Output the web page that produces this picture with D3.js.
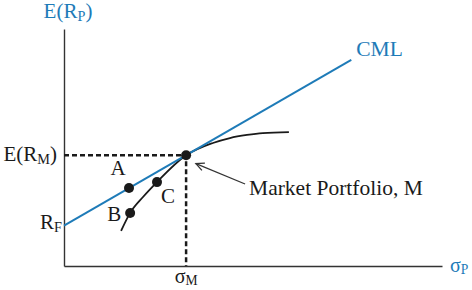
<!DOCTYPE html>
<html>
<head>
<meta charset="utf-8">
<script src="https://cdn.jsdelivr.net/npm/d3@7"></script>
<style>
  body { margin: 0; background: #fff; }
  svg text { font-family: 'Liberation Serif', 'Times New Roman', serif; }
</style>
</head>
<body>
<svg id="chart" width="472" height="290"></svg>
<script>
// values (arbitrary units, sigma on x, E(R) on y)
var riskFree = 17
var cmlPoints = [[0, 17], [76, 87]]
var frontier = [
  [15.1, 14.8], [17.5, 22.4], [20.9, 29.1], [24.6, 35.4], [32.3, 46.7],
  [39.4, 51.9], [43.9, 54.0], [48.4, 55.3], [52.6, 56.1], [59.5, 56.5]
]
var portfolios = [
  {name: 'A', x: 17.2, y: 32.9},
  {name: 'B', x: 17.5, y: 22.4},
  {name: 'C', x: 24.6, y: 35.4},
  {name: 'M', x: 32.3, y: 46.7}
]
var arrowFrom = [47.9, 34.6]
var arrowTo = [34.9, 43.2]

var blue = '#1e7bb8'
var ink = '#1a1a1a'

var svg = d3.select('#chart')
var margin = {top: 29, right: 30, bottom: 24, left: 64}
var width = 472 - margin.left - margin.right
var height = 290 - margin.top - margin.bottom

var x = d3.scaleLinear().domain([0, 100]).range([margin.left, margin.left + width])
var y = d3.scaleLinear().domain([0, 100]).range([margin.top + height, margin.top])

var M = portfolios.find((d) => d.name === 'M')

// axes (plain lines, no ticks)
svg.append('g')
  .attr('transform', 'translate(0,' + y(0) + ')')
  .call(d3.axisBottom(x).ticks(0).tickSizeOuter(0))
  .select('.domain').attr('stroke', '#333').attr('stroke-width', 1.4)
svg.append('g')
  .attr('transform', 'translate(' + x(0) + ',0)')
  .call(d3.axisLeft(y).ticks(0).tickSizeOuter(0))
  .select('.domain').attr('stroke', '#333').attr('stroke-width', 1.4)

// dashed guides to M
svg.append('path')
  .attr('d', 'M' + x(0) + ',' + y(M.y) + 'H' + x(M.x) + 'V' + y(0))
  .attr('fill', 'none')
  .attr('stroke', ink)
  .attr('stroke-width', 2.5)
  .attr('stroke-dasharray', '5,3')

// efficient frontier
var line = d3.line()
  .x((d) => x(d[0]))
  .y((d) => y(d[1]))
  .curve(d3.curveMonotoneX)
svg.append('path')
  .datum(frontier)
  .attr('fill', 'none')
  .attr('stroke', ink)
  .attr('stroke-width', 1.8)
  .attr('d', line)

// capital market line
svg.append('path')
  .datum(cmlPoints)
  .attr('fill', 'none')
  .attr('stroke', blue)
  .attr('stroke-width', 2)
  .attr('d', d3.line().x((d) => x(d[0])).y((d) => y(d[1])))

// portfolio dots
svg.selectAll('circle')
  .data(portfolios)
  .enter().append('circle')
  .attr('cx', (d) => x(d.x))
  .attr('cy', (d) => y(d.y))
  .attr('r', 5)
  .attr('fill', ink)

// arrow to M
svg.append('line')
  .attr('x1', x(arrowFrom[0])).attr('y1', y(arrowFrom[1]))
  .attr('x2', x(arrowTo[0])).attr('y2', y(arrowTo[1]))
  .attr('stroke', '#333').attr('stroke-width', 1.3)
var ang = Math.atan2(y(arrowFrom[1]) - y(arrowTo[1]), x(arrowFrom[0]) - x(arrowTo[0]))
var head = [ang - 0.45, ang + 0.45].map((a) => [x(arrowTo[0]) + 9 * Math.cos(a), y(arrowTo[1]) + 9 * Math.sin(a)])
svg.append('path')
  .attr('d', 'M' + head[0] + 'L' + x(arrowTo[0]) + ',' + y(arrowTo[1]) + 'L' + head[1])
  .attr('fill', 'none')
  .attr('stroke', '#333').attr('stroke-width', 1.3)

// letter labels near the dots
var offsets = {A: [-11, -13], B: [-16, 8], C: [11, 21]}
svg.selectAll('.plabel')
  .data(portfolios.filter((d) => d.name !== 'M'))
  .enter().append('text')
  .attr('class', 'plabel')
  .attr('x', (d) => x(d.x) + offsets[d.name][0])
  .attr('y', (d) => y(d.y) + offsets[d.name][1])
  .attr('text-anchor', 'middle')
  .attr('font-size', 21)
  .attr('fill', ink)
  .text((d) => d.name)

svg.append('text')
  .attr('x', x(arrowFrom[0]) + 4)
  .attr('y', y(arrowFrom[1]) + 11)
  .attr('font-size', 21.5)
  .attr('fill', ink)
  .text('Market Portfolio, M')

// text with a subscript
function subText (px, py, main, sub, close, anchor, color, size, drop) {
  var t = svg.append('text')
    .attr('x', px).attr('y', py)
    .attr('text-anchor', anchor)
    .attr('font-size', size)
    .attr('fill', color)
  t.append('tspan').text(main)
  t.append('tspan').attr('font-size', size * 0.68).attr('dy', drop).text(sub)
  if (close) t.append('tspan').attr('dy', -drop).text(close)
  return t
}

subText(x(0) + 4, 18, 'E(R', 'P', ')', 'middle', blue, 21, 3)
subText(x(100) + 8, y(0) + 6, 'σ', 'P', null, 'start', blue, 20, 2)
subText(x(M.x), y(0) + 17, 'σ', 'M', null, 'middle', ink, 20, 2)
subText(x(0) - 7, y(M.y) + 6, 'E(R', 'M', ')', 'end', ink, 21, 3)
subText(x(0) - 2, y(riskFree) + 3, 'R', 'F', null, 'end', ink, 21, 3)

svg.append('text')
  .attr('x', x(cmlPoints[1][0]) + 5)
  .attr('y', y(cmlPoints[1][1]) - 4)
  .attr('font-size', 21.5)
  .attr('fill', blue)
  .text('CML')
</script>
</body>
</html>
